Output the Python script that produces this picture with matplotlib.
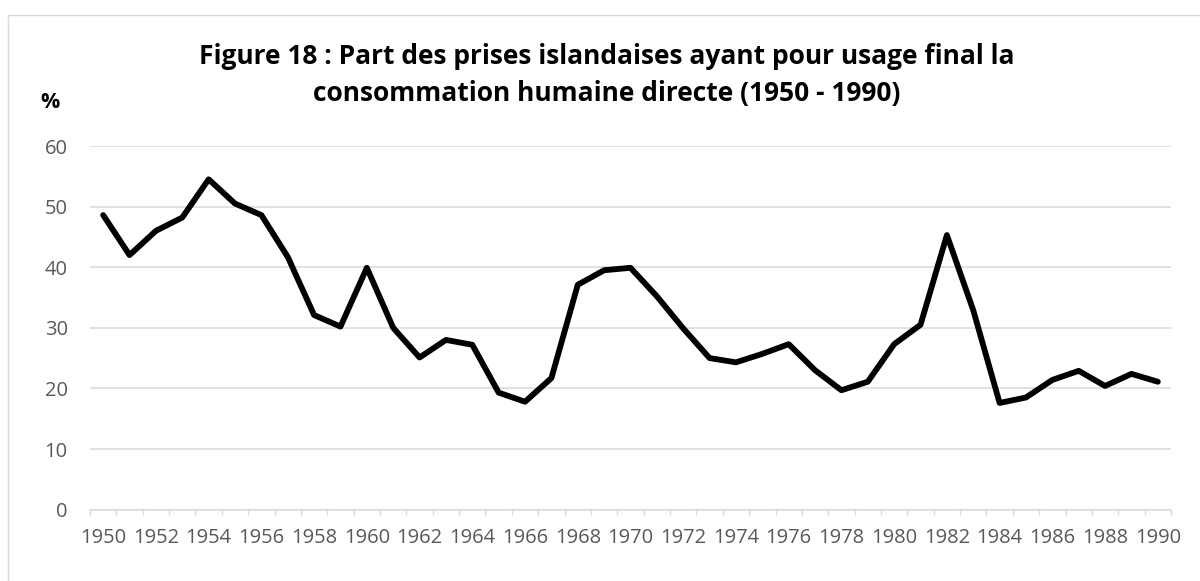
import matplotlib
matplotlib.use("Agg")
import matplotlib.pyplot as plt
from matplotlib.patches import Rectangle
import numpy as np

years = list(range(1950, 1991))
share_pct = [48.6, 42.0, 46.0, 48.2, 54.5, 50.5, 48.6, 41.7, 32.1, 30.2,
             39.9, 30.0, 25.1, 28.0, 27.2, 19.3, 17.8, 21.7, 37.1, 39.5,
             39.9, 35.2, 29.9, 25.0, 24.3, 25.7, 27.3, 23.0, 19.7, 21.1,
             27.3, 30.5, 45.3, 32.9, 17.6, 18.5, 21.4, 22.9, 20.4, 22.4,
             21.1]
y_ticks = [0, 10, 20, 30, 40, 50, 60]
title_line1 = "Figure 18 : Part des prises islandaises ayant pour usage final la"
title_line2 = "consommation humaine directe (1950 - 1990)"
y_unit = "%"

FONT = ["Open Sans", "DejaVu Sans"]
plt.rcParams['font.family'] = FONT

W, H = 1200, 581
fig = plt.figure(figsize=(W / 100, H / 100), dpi=100)

def fx(px):
    return px / W

def fy(py):
    return 1 - py / H

# chart border
fig.patches.append(Rectangle((fx(8), fy(600)), fx(1220) - fx(8), fy(15) - fy(600),
                             transform=fig.transFigure, fill=False,
                             edgecolor="#d9d9d9", linewidth=1.0))

ax_left, ax_right, ax_top, ax_bottom = 90, 1171, 146, 509.6
ax = fig.add_axes([fx(ax_left), fy(ax_bottom), fx(ax_right) - fx(ax_left),
                   fy(ax_top) - fy(ax_bottom)])

x = np.arange(len(years))
ax.plot(x, share_pct, color="black", linewidth=4.2, solid_joinstyle="round",
        solid_capstyle="round", zorder=3)

ax.set_xlim(-0.5, len(years) - 0.5)
ax.set_ylim(0, 60)
ax.set_yticks(y_ticks)
ax.set_yticklabels([str(v) for v in y_ticks])
ax.yaxis.grid(True, color="#d9d9d9", linewidth=1.1)
ax.set_axisbelow(True)

ax.set_xticks(x[::2])
ax.set_xticklabels([str(y) for y in years[::2]])
ax.set_xticks(np.arange(-0.5, len(years)), minor=True)
ax.tick_params(axis="x", which="major", length=0, pad=13, labelsize=14.5,
               labelcolor="#595959")
ax.tick_params(axis="x", which="minor", length=3.8, width=1.0, color="#d9d9d9",
               direction="out")
ax.tick_params(axis="y", length=0, pad=16, labelsize=14.5, labelcolor="#595959")

for s in ["top", "right", "left"]:
    ax.spines[s].set_visible(False)
ax.spines["bottom"].set_color("#d9d9d9")
ax.spines["bottom"].set_linewidth(1.1)

fig.text(fx(607), fy(63.5), title_line1, ha="center", va="baseline",
         fontsize=19, fontweight="bold", color="black")
fig.text(fx(607), fy(101), title_line2, ha="center", va="baseline",
         fontsize=19, fontweight="bold", color="black")
fig.text(fx(50), fy(103), y_unit, ha="center", va="center",
         fontsize=15.5, fontweight="bold", color="black")

fig.savefig("out.png", dpi=100, facecolor="white")
